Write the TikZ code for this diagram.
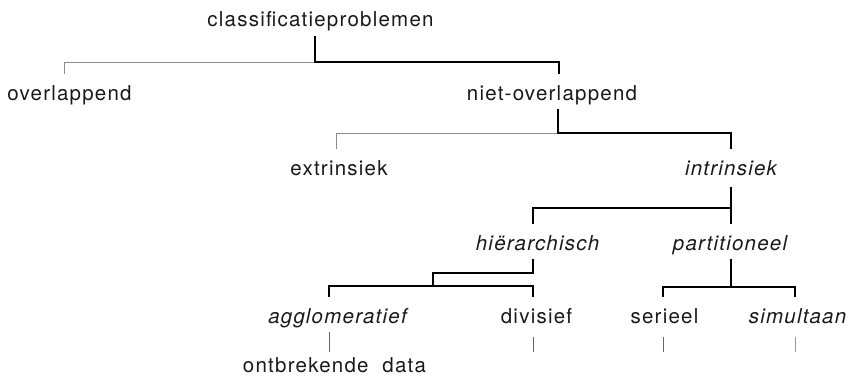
\documentclass[tikz,border=0pt]{standalone}
\usepackage{fontspec}
\setmainfont{TeX Gyre Heros}[LetterSpace=6]
\usepackage{tikz}
\usetikzlibrary{positioning}
\newcommand{\treefont}{\fontsize{20.5}{24}\selectfont}

\begin{document}
\begin{tikzpicture}[
    x=1pt, y=-1pt,
    lbl/.style={
        font=\treefont,
        text=black!90,
        anchor=base,
        inner xsep=0pt,
        inner ysep=5pt,
        text height=21pt,
        text depth=4pt
    },
    ital/.style={lbl, font=\treefont\itshape},
    strong/.style={draw=black, line width=1.6pt},
    faint/.style={draw=black!45, line width=0.8pt},
    leaf/.style={draw=black!60, line width=0.7pt}
]
\useasboundingbox (0,0) rectangle (849,380);

% Labels, row by row
\node[lbl] (root) at (320.5,27) {classificatieproblemen};

\node[lbl] (overl) at (69.5,100) {overlappend};
\node[lbl] (niet) at (552,100) {niet-overlappend};

\node[lbl] (extr) at (339,175) {extrinsiek};
\node[ital] (intr) at (731,175) {intrinsiek};

\node[ital] (hier) at (537.5,250) {hiërarchisch};
\node[ital] (part) at (730,250) {partitioneel};

\node[ital] (aggl) at (337.5,323) {agglomeratief};
\node[lbl] (divi) at (536.5,323) {divisief};
\node[lbl] (seri) at (664.5,323) {serieel};
\node[ital] (simu) at (797.5,323) {simultaan};

\node[lbl] (ontb) at (334.5,372) {ontbrekende\ \ data};

% Junctions
\coordinate (fork0) at (315,62);
\coordinate (fork1) at (558,133);
\coordinate (fork2) at (731,208);
\coordinate (fork3) at (433,273);
\coordinate (fork4) at (433,286);
\coordinate (fork5) at (731,287);

% Open ends below the leaves
\coordinate (end1) at (533,352);
\coordinate (end2) at (663,352);
\coordinate (end3) at (795,352);

% Top split
\draw[faint] (fork0) -| ([xshift=-5.5]overl.north);
\draw[strong] (root.south -| fork0) -- (fork0) -| ([xshift=7]niet.north);

% niet-overlappend split
\draw[faint] (fork1) -| ([xshift=-3]extr.north);
\draw[strong] (niet.south -| fork1) -- (fork1) -| (intr.north);

% intrinsiek split
\draw[strong] ([yshift=-3]intr.south) -- (fork2) -| ([xshift=-4.5]hier.north);
\draw[strong] (fork2) -- (part.north -| fork2);

% hierarchisch split (offset junction)
\draw[strong] ([xshift=-4.5]hier.south) |- (fork3) -- (fork4);
\draw[strong] ([xshift=-8.5]aggl.north) |- (fork4) -| ([xshift=-3.5]divi.north);

% partitioneel split
\draw[strong] (part.south -| fork5) -- (fork5);
\draw[strong] ([xshift=-1.5]seri.north) |- (fork5) -| ([xshift=-2.5]simu.north);

% Leaf stubs
\draw[leaf] ([xshift=-8.5]aggl.south) -- ([xshift=-5.5,yshift=-6]ontb.north);
\draw[leaf] ([xshift=-3.5,yshift=-5]divi.south) -- (end1);
\draw[leaf] ([xshift=-1.5,yshift=-5]seri.south) -- (end2);
\draw[leaf, draw=black!40] ([xshift=-2.5,yshift=-5]simu.south) -- (end3);
\end{tikzpicture}
\end{document}
